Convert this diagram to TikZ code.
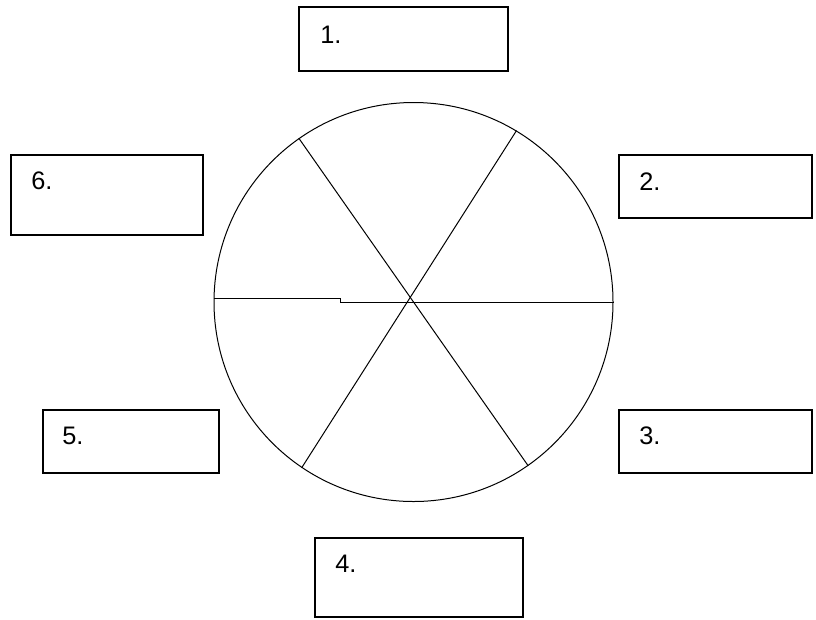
\documentclass[tikz,border=0pt]{standalone}
\usepackage{fontspec}
\setmainfont{Liberation Sans}
\usetikzlibrary{fit}
\tikzset{
  box/.style={draw, line width=1.5pt, inner sep=0pt},
  num/.style={anchor=west, inner sep=0pt, font=\fontsize{19}{22}\selectfont}
}
\begin{document}
\begin{tikzpicture}[x=0.75pt,y=-0.75pt]
\useasboundingbox (0,0) rectangle (816,619);
% the wheel
\node[draw, circle, line width=0.75pt, minimum size=299.25pt, inner sep=0pt] (wheel) at (413.5,302) {};
\draw[line width=0.75pt] (wheel.125.5)--(wheel.-55.5);
\draw[line width=0.75pt] (wheel.59)--(wheel.236.3);
\coordinate (stepb) at (340,302);
\coordinate (stepa) at (wheel.179.4 -| stepb);
\draw[line width=0.75pt] (wheel.179.4)--(stepa)--(stepb)--(wheel.east);
% boxes round it
\node[box, fit={(299,7) (508,71)}] (b1) {};
\node[box, fit={(619,155) (812,218)}] (b2) {};
\node[box, fit={(619,410) (812,473)}] (b3) {};
\node[box, fit={(315,538) (523,617)}] (b4) {};
\node[box, fit={(43,410) (219,473)}] (b5) {};
\node[box, fit={(11,155) (203,235)}] (b6) {};
\node[num] (n1) at (320,35) {1.};
\node[num] (n2) at (639,182) {2.};
\node[num] (n3) at (639,436) {3.};
\node[num] (n4) at (335,564) {4.};
\node[num] (n5) at (62,435.5) {5.};
\node[num] (n6) at (31,181) {6.};
\end{tikzpicture}
\end{document}
